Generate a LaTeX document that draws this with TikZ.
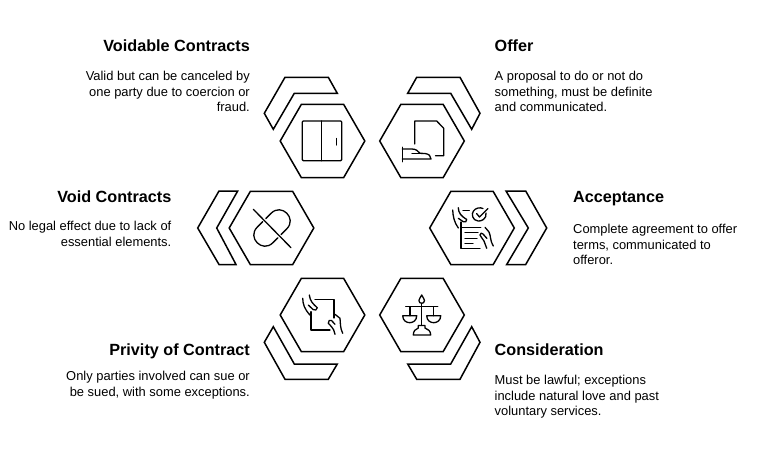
\documentclass[tikz,border=0pt]{standalone}
\usepackage{fontspec}
\setmainfont{Liberation Sans}
\usetikzlibrary{positioning,shapes.geometric}
\tikzset{
  hexa/.style={draw,regular polygon,regular polygon sides=6,minimum size=84.6pt,inner sep=0pt,line width=1.5pt,on grid},
  band/.style={draw,line width=1.5pt,line join=miter},
  glyph/.style={draw,line width=1.3pt,line cap=round,line join=round},
  heading/.style={inner sep=0pt,text height=12pt,text depth=3.5pt,font=\fontsize{16.2}{18}\selectfont\bfseries},
  blurbl/.style={inner sep=0pt,align=right,font=\fontsize{12.9}{15.5}\selectfont},
  blurbr/.style={inner sep=0pt,align=left,font=\fontsize{12.9}{15.5}\selectfont}
}
\begin{document}
\begin{tikzpicture}[x=1pt,y=-1pt]
  \useasboundingbox (0,0) rectangle (774,452);

  \node[hexa] (HexVoidable) at (322.5,141) {};
  \node[hexa, right=99.5pt of HexVoidable] (HexOffer) {};
  \node[hexa, below left=87pt and 51pt of HexVoidable] (HexVoid) {};
  \node[hexa, below right=87pt and 50pt of HexOffer] (HexAccept) {};
  \node[hexa, below right=87pt and 51pt of HexVoid] (HexPrivity) {};
  \node[hexa, below left=87pt and 50pt of HexAccept] (HexConsider) {};

  \node[heading, above left=85.5pt and 72.5pt of HexVoidable.center] (VoidableTitle) {Voidable Contracts};
  \node[blurbl, below=15.5pt of VoidableTitle.south east, anchor=north east] (VoidableText) {Valid but can be canceled by\\one party due to coercion or\\fraud.};
  \node[heading, above right=85.5pt and 72.5pt of HexOffer.center] (OfferTitle) {Offer};
  \node[blurbr, below=15.5pt of OfferTitle.south west, anchor=north west] (OfferText) {A proposal to do or not do\\something, must be definite\\and communicated.};
  \node[heading, above left=21.5pt and 100pt of HexVoid.center] (VoidTitle) {Void Contracts};
  \node[blurbl, below=14.5pt of VoidTitle.south east, anchor=north east] (VoidText) {No legal effect due to lack of\\essential elements.};
  \node[heading, above right=21.5pt and 101pt of HexAccept.center] (AcceptTitle) {Acceptance};
  \node[blurbr, below=17.5pt of AcceptTitle.south west, anchor=north west] (AcceptText) {Complete agreement to offer\\terms, communicated to\\offeror.};
  \node[heading, below left=28pt and 72.5pt of HexPrivity.center] (PrivityTitle) {Privity of Contract};
  \node[blurbl, below=12.5pt of PrivityTitle.south east, anchor=north east] (PrivityText) {Only parties involved can sue or\\be sued, with some exceptions.};
  \node[heading, below right=28pt and 72.5pt of HexConsider.center] (ConsiderTitle) {Consideration};
  \node[blurbr, below=16.5pt of ConsiderTitle.south west, anchor=north west] (ConsiderText) {Must be lawful; exceptions\\include natural love and past\\voluntary services.};

  \draw[band] (285,77.3) -- (328.3,77.3) -- (337.3,93.3) -- (294.3,93.3) -- (273.3,129.3) -- (264.3,113.3) -- cycle;
  \draw[band] (460,77.3) -- (416.7,77.3) -- (407.7,93.3) -- (450.7,93.3) -- (471.7,129.3) -- (480,113.3) -- cycle;
  \draw[band] (219,191) -- (237.7,191) -- (216.7,228) -- (236,264.5) -- (219,264.5) -- (197.7,228) -- cycle;
  \draw[band] (506,191) -- (525.7,191) -- (546.7,228) -- (525.7,264.5) -- (506.7,264.5) -- (528.3,228) -- cycle;
  \draw[band] (273.3,326.7) -- (294.3,364) -- (337.3,364) -- (328.3,379.3) -- (285,379.3) -- (264.3,342.3) -- cycle;
  \draw[band] (471.7,326.7) -- (450.7,364) -- (407.7,364) -- (416.7,379.3) -- (460,379.3) -- (480,342.3) -- cycle;

  \draw[glyph,rounded corners=1pt] (302.3,121) rectangle (341.7,160.7);
  \draw[glyph] (321.7,121) -- (321.7,160.7) (336.5,138.5) -- (336.5,145);

  \draw[glyph] (414.7,144) -- (414.7,121) -- (436.7,121) -- (443.7,128.3) -- (443.7,155.7) -- (435.5,155.7);
  \draw[glyph] (402.3,147.3) -- (402.3,161.7);
  \draw[glyph] (402.3,149) -- (412,149) .. controls (416,149) and (418,151) .. (420,153.3) -- (425,153.5) .. controls (429,154) and (431,156) .. (431,159) -- (402.3,159);
  \draw[glyph] (412,153.3) -- (420,153.3);

  \draw[glyph] (253.3,209.3) -- (291,247.7);
  \draw[glyph] (265.8,218.6) -- (271.2,213.2) .. controls (281.6,202.8) and (297.2,218.4) .. (286.8,228.8) -- (281,234.6);
  \draw[glyph] (262.7,221.7) -- (257.2,227.2) .. controls (246.8,237.6) and (262.4,253.2) .. (272.8,242.8) -- (277.8,237.8);

  \draw[glyph] (461,227.3) -- (480.7,227.3) (461,222) -- (461,248.3) -- (480,248.3);
  \draw[glyph] (465,232.7) -- (478,232.7) (465,238.3) -- (477,238.3) (465,243.3) -- (473,243.3);
  \draw[glyph] (486,213) .. controls (487,219) and (481,221.5) .. (478,221) .. controls (472.5,220.5) and (471,214) .. (473.5,211) .. controls (475.5,208) and (480,207) .. (483,208.5);
  \draw[glyph] (476.5,213.5) -- (479.5,217) -- (488,208.5);
  \draw[glyph] (463,210.7) -- (469.3,210.7);
  \draw[glyph] (452.7,210) .. controls (453,216) and (454,222) .. (458.3,228);
  \draw[glyph] (458.3,207.7) .. controls (458.5,213) and (461,216) .. (466.7,219.5) .. controls (467,222) and (465,222.5) .. (463.3,221.7) -- (458.3,218.3);
  \draw[glyph] (493.3,246) .. controls (490,241) and (491,236) .. (489,232) -- (485,227.3);
  \draw[glyph] (486.7,248.3) -- (484,241) .. controls (483,238) and (480,237) .. (480,235) .. controls (480,233) and (482,232.5) .. (483,234) -- (487,238.5);

  \draw[glyph] (315,299.3) -- (334,299.3) -- (334,318) (311,311.7) -- (311,330) -- (330,330);
  \draw[glyph] (302.7,298.3) .. controls (303,304) and (304,309) .. (310.7,315.7);
  \draw[glyph] (309.3,295) .. controls (310,301) and (313,304) .. (317.3,307.7) .. controls (317,310.5) and (315,310.5) .. (313,309.5) -- (308.3,305);
  \draw[glyph] (335,314.3) -- (340,318.3) .. controls (340.5,323) and (340,328) .. (342.7,333.3);
  \draw[glyph] (335,334.3) .. controls (334.5,331) and (334,329) .. (328.3,323.3) .. controls (328,320.5) and (330,319.5) .. (331.5,320.5) -- (335,324.3);

  \draw[glyph] (421.7,303.3) -- (421.7,325) (405.7,306.7) -- (437.7,306.7);
  \draw[glyph] (421.7,295) .. controls (423,298) and (424.5,299) .. (424.5,300.5) .. controls (424.5,302.5) and (423,303.3) .. (421.7,303.3) .. controls (420.4,303.3) and (418.9,302.5) .. (418.9,300.5) .. controls (418.9,299) and (420.4,298) .. (421.7,295);
  \draw[glyph] (410,306.7) -- (410,315.7) (433.5,306.7) -- (433.5,315.7);
  \draw[glyph] (402.7,315.7) -- (416.7,315.7) .. controls (416.7,320.5) and (413,322.7) .. (409.7,322.7) .. controls (406.4,322.7) and (402.7,320.5) .. (402.7,315.7);
  \draw[glyph] (426.7,315.7) -- (440.7,315.7) .. controls (440.7,320.5) and (437,322.7) .. (433.7,322.7) .. controls (430.4,322.7) and (426.7,320.5) .. (426.7,315.7);
  \draw[glyph] (418.3,325.5) -- (425,325.5) -- (425,328) .. controls (428,329) and (430.7,331) .. (430.7,335) -- (413.3,335) .. controls (413.3,331) and (415.5,329) .. (418.3,328) -- cycle;
\end{tikzpicture}
\end{document}
